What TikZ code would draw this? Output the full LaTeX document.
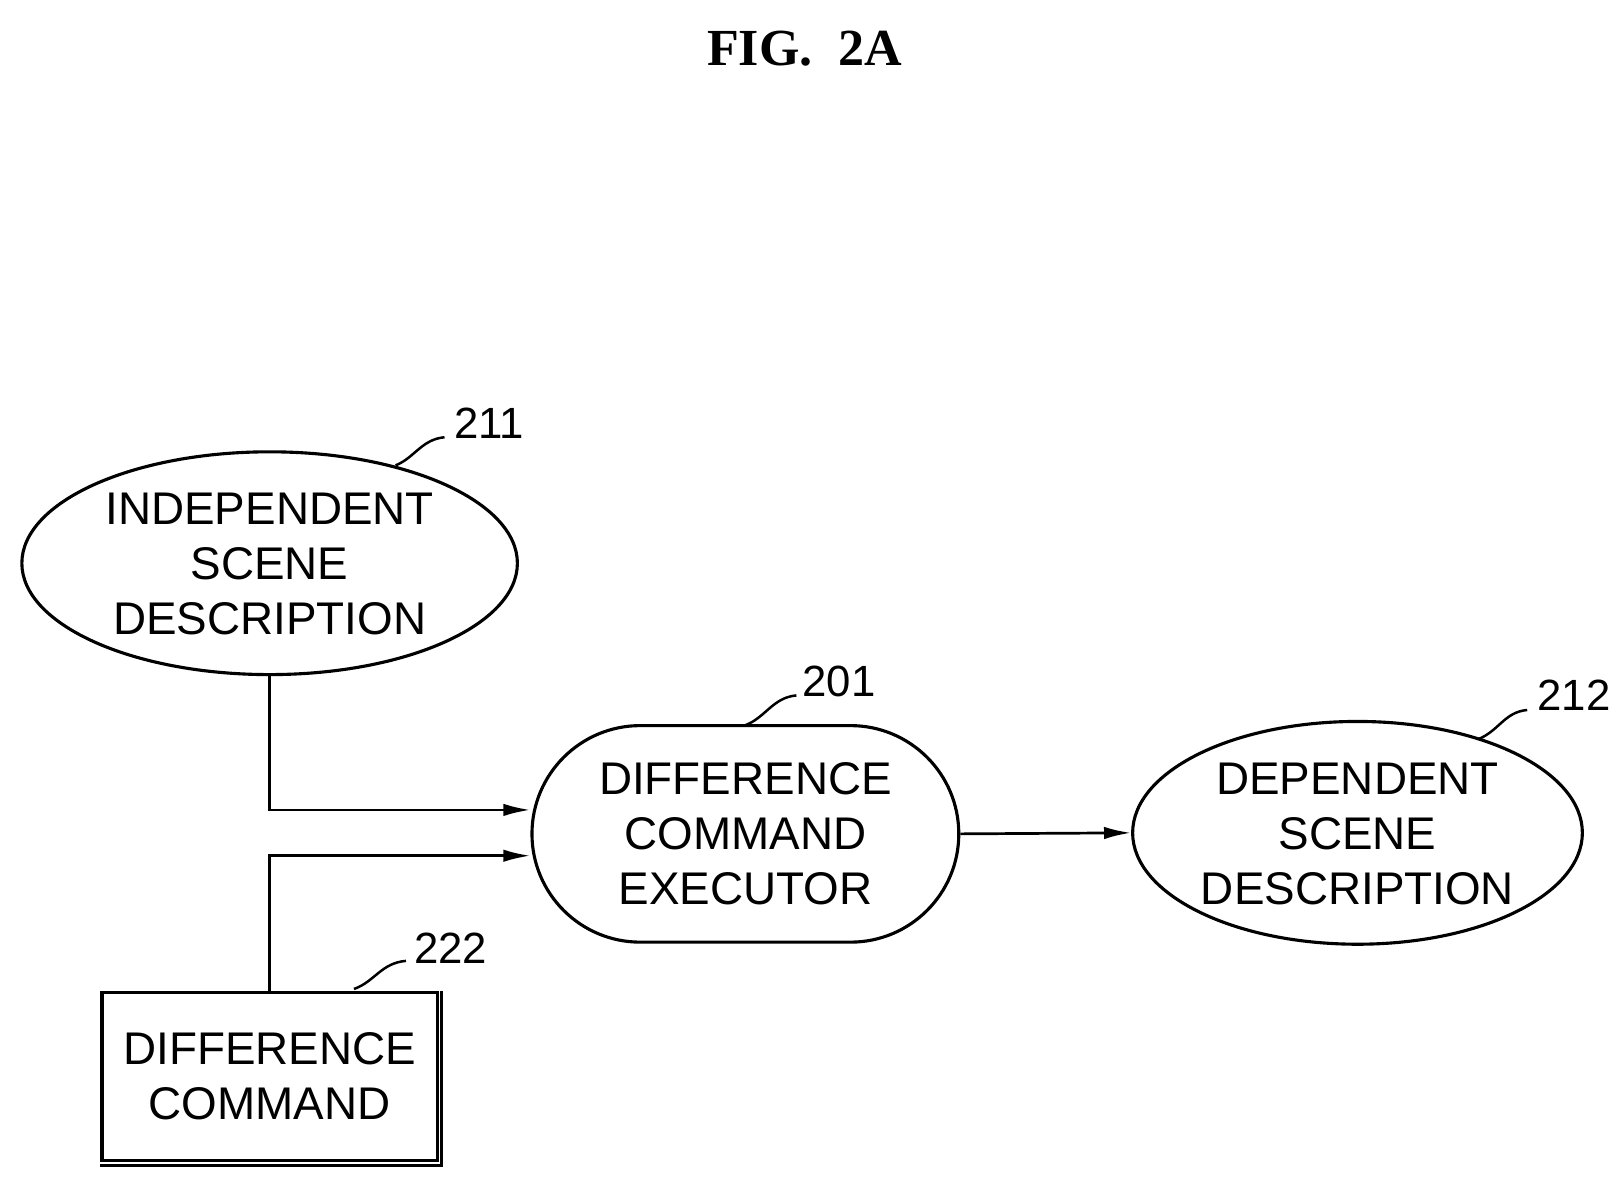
\documentclass[tikz,border=0pt]{standalone}
\usepackage{fontspec}
\setmainfont{Liberation Sans}
\newfontfamily\titlefont{Liberation Serif}
\usetikzlibrary{shapes.geometric,arrows.meta}
\begin{document}
\begin{tikzpicture}[x=1pt,y=-1pt,line width=3pt,
  txt/.style={font=\fontsize{44}{53}\selectfont,align=center,inner sep=0},
  lbl/.style={font=\fontsize{42}{42}\selectfont,inner sep=0},
  arr/.style={-{Latex[length=26pt,width=12pt]},line width=2.6pt},
  lead/.style={line width=2.4pt}]
\useasboundingbox (0,0) rectangle (1560,1133);
\node[font=\titlefont\bfseries\fontsize{50}{50}\selectfont] (title) at (773,47) {FIG.\ \ 2A};
\node[ellipse,draw,minimum width=476pt,minimum height=214pt,inner sep=0] (e211) at (259,541) {};
\node[txt] (t211) at (259,542) {INDEPENDENT\\SCENE\\DESCRIPTION};
\node[rounded corners=104pt,draw,minimum width=410pt,minimum height=208pt,inner sep=0] (s201) at (716,801) {};
\node[txt] (t201) at (716,801) {DIFFERENCE\\COMMAND\\EXECUTOR};
\node[ellipse,draw,minimum width=432pt,minimum height=214pt,inner sep=0] (e212) at (1304,800) {};
\node[txt] (t212) at (1304,801) {DEPENDENT\\SCENE\\DESCRIPTION};
\node[draw,minimum width=322pt,minimum height=162pt,inner sep=0] (r222) at (259,1034) {};
\draw[line width=3pt] ([xshift=3pt]r222.north east) -- ([xshift=3pt,yshift=-3pt]r222.south east) -- ([yshift=-3pt]r222.south west);
\node[txt] (t222) at (259,1034) {DIFFERENCE\\COMMAND};
\node[lbl] (l211) at (470,407) {211};
\node[lbl] (l201) at (806,655) {201};
\node[lbl] (l212) at (1512,668) {212};
\node[lbl] (l222) at (433,911) {222};
\coordinate (c1) at (259,778);
\coordinate (c2) at (259,822);
\draw[arr] (e211.south) -- (c1) -- (c1 -| s201.west);
\draw[arr] (r222.north) -- (c2) -- (c2 -| s201.west);
\draw[arr] (s201.east) -- (e212.west);
\coordinate (a1) at (380,447); \coordinate (a2) at (427,420);
\draw[lead] (a1) .. controls (398,440) and (405,422) .. (a2);
\coordinate (b1) at (715,697); \coordinate (b2) at (765,668);
\draw[lead] (b1) .. controls (735,690) and (742,670) .. (b2);
\coordinate (d1) at (1420,710); \coordinate (d2) at (1467,682);
\draw[lead] (d1) .. controls (1440,702) and (1445,684) .. (d2);
\coordinate (f1) at (340,950); \coordinate (f2) at (390,923);
\draw[lead] (f1) .. controls (360,943) and (366,925) .. (f2);
\end{tikzpicture}
\end{document}
